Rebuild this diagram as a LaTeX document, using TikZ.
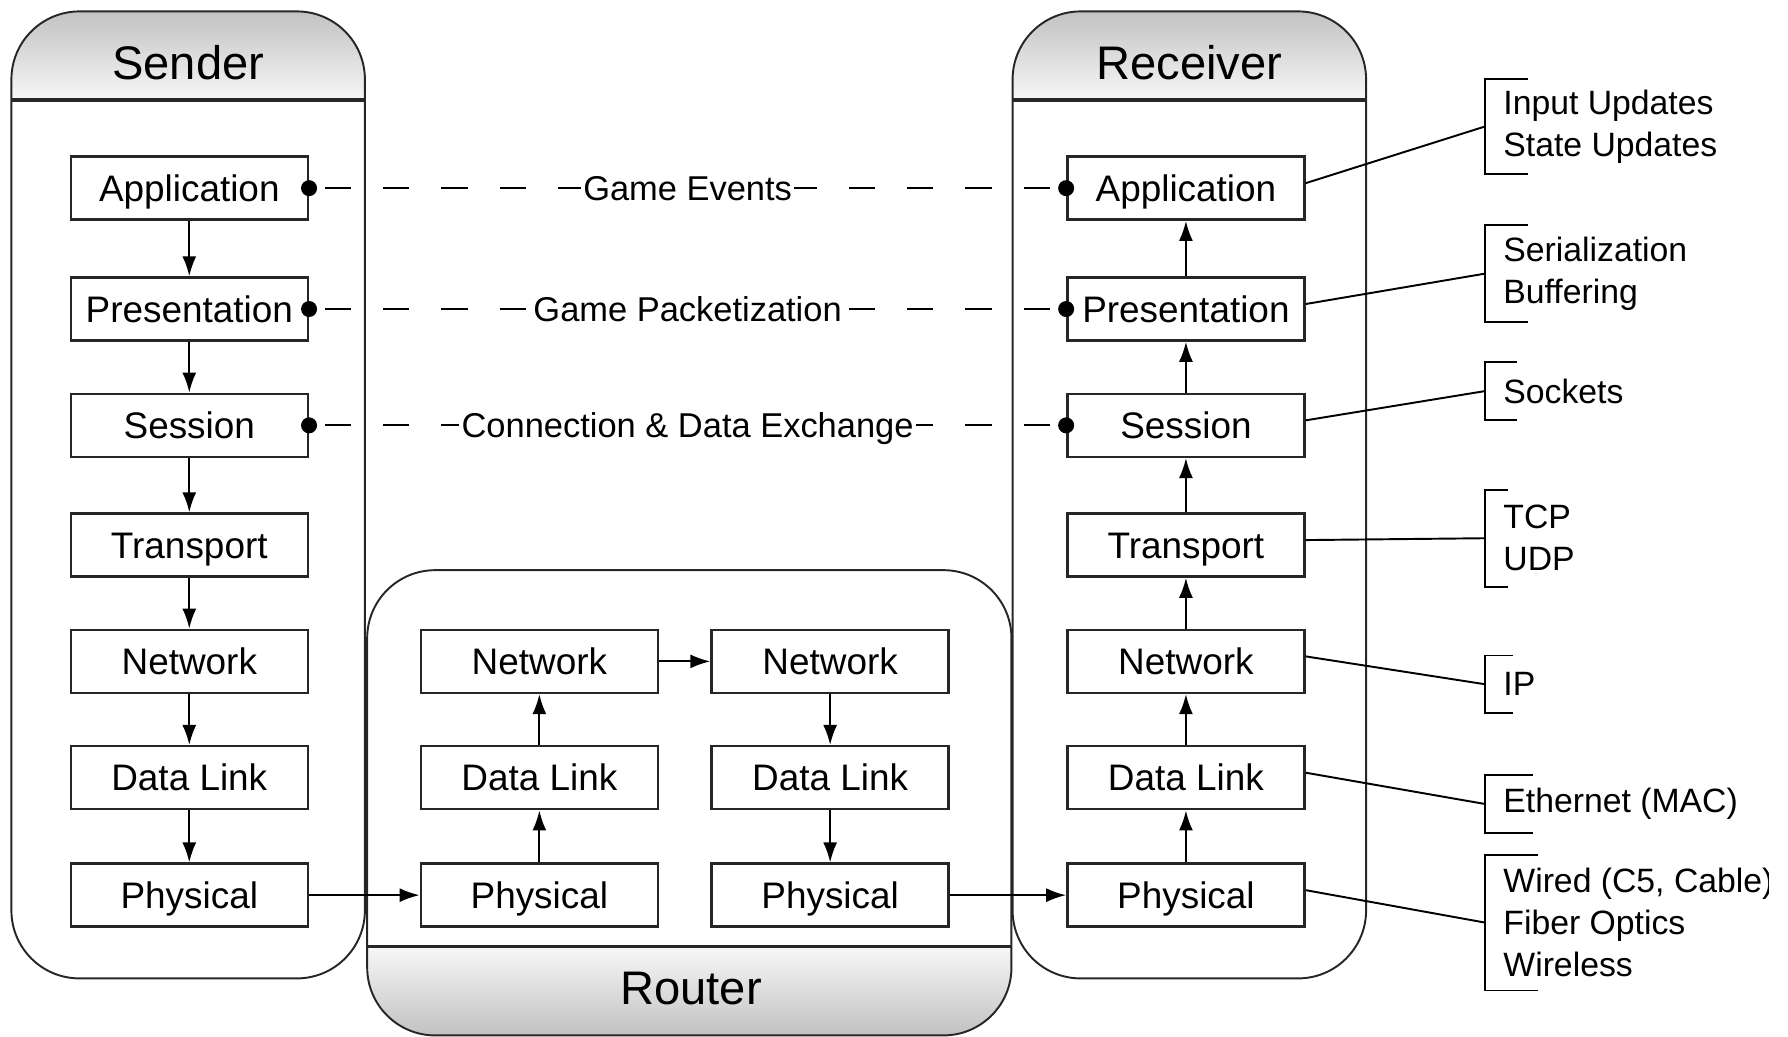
\documentclass[tikz,border=0pt]{standalone}
\usepackage{fontspec}
\setmainfont{Liberation Sans}
\usetikzlibrary{arrows.meta}

% bracket on the left side of a note: node, tick length
\newcommand{\bracketat}[2]{%
    \draw [link] (#1.north west) ++(#2,0) -- (#1.north west) -- (#1.south west) -- ++(#2,0);}

\tikzset{
    frame/.style={draw=black!85, line width=0.55pt, rounded corners=6.8mm},
    sep/.style={draw=black!85, line width=1.1pt},
    layer/.style={draw=black!85, line width=0.7pt, minimum width=23.7mm, minimum height=6.3mm,
        inner sep=0pt, text height=7.5pt, text depth=0pt, font=\fontsize{10.5}{12.6}\selectfont},
    title/.style={font=\fontsize{13.4}{16}\selectfont},
    flow/.style={->, line width=0.6pt},
    peer/.style={line width=0.55pt, dash pattern=on 2.62mm off 3.2mm, dash phase=4.23mm},
    peerlabel/.style={fill=white, inner xsep=0.6pt, inner ysep=1.5pt, text height=7pt, text depth=0pt,
        font=\fontsize{9.8}{12}\selectfont},
    note/.style={anchor=west, align=left, inner xsep=1.8mm, inner ysep=0pt, minimum height=#1,
        font=\fontsize{9.6}{12}\selectfont},
    link/.style={line width=0.55pt},
}

\begin{document}
\begin{tikzpicture}[x=0.114mm, y=-0.114mm, >={Latex[length=2mm, width=1.4mm]}]
    \useasboundingbox (0,0) rectangle (1568,909);

    % sender, receiver and router frames
    \begin{scope}
        \clip [rounded corners=6.8mm] (10,10) rectangle (320,858);
        \shade [top color=black!24, bottom color=black!3] (10,10) rectangle (320,88);
    \end{scope}
    \begin{scope}
        \clip [rounded corners=6.8mm] (888,10) rectangle (1198,858);
        \shade [top color=black!24, bottom color=black!3] (888,10) rectangle (1198,88);
    \end{scope}
    \begin{scope}
        \clip [rounded corners=6.8mm] (322,500) rectangle (887,908);
        \shade [top color=black!3, bottom color=black!24] (322,830) rectangle (887,908);
    \end{scope}
    \draw [frame] (10,10) rectangle (320,858);
    \draw [frame] (888,10) rectangle (1198,858);
    \draw [frame] (322,500) rectangle (887,908);
    \draw [sep] (10,88) -- (320,88);
    \draw [sep] (888,88) -- (1198,88);
    \draw [sep] (322,830) -- (887,830);

    \node (sender) at (165,55) [title] {Sender};
    \node (receiver) at (1043,55) [title] {Receiver};
    \node (router) at (606,867) [title] {Router};

    % sender stack
    \node (sapp) at (166,165) [layer] {Application};
    \node (spre) at (166,271) [layer] {Presentation};
    \node (sses) at (166,373) [layer] {Session};
    \node (stra) at (166,478) [layer] {Transport};
    \node (snet) at (166,580) [layer] {Network};
    \node (sdat) at (166,682) [layer] {Data Link};
    \node (sphy) at (166,785) [layer] {Physical};

    % receiver stack
    \node (rapp) at (1040,165) [layer] {Application};
    \node (rpre) at (1040,271) [layer] {Presentation};
    \node (rses) at (1040,373) [layer] {Session};
    \node (rtra) at (1040,478) [layer] {Transport};
    \node (rnet) at (1040,580) [layer] {Network};
    \node (rdat) at (1040,682) [layer] {Data Link};
    \node (rphy) at (1040,785) [layer] {Physical};

    % router stacks
    \node (anet) at (473,580) [layer] {Network};
    \node (adat) at (473,682) [layer] {Data Link};
    \node (aphy) at (473,785) [layer] {Physical};
    \node (bnet) at (728,580) [layer] {Network};
    \node (bdat) at (728,682) [layer] {Data Link};
    \node (bphy) at (728,785) [layer] {Physical};

    \draw [flow] (sapp) -- (spre);
    \draw [flow] (spre) -- (sses);
    \draw [flow] (sses) -- (stra);
    \draw [flow] (stra) -- (snet);
    \draw [flow] (snet) -- (sdat);
    \draw [flow] (sdat) -- (sphy);
    \draw [flow] (sphy) -- (aphy);
    \draw [flow] (aphy) -- (adat);
    \draw [flow] (adat) -- (anet);
    \draw [flow] (anet) -- (bnet);
    \draw [flow] (bnet) -- (bdat);
    \draw [flow] (bdat) -- (bphy);
    \draw [flow] (bphy) -- (rphy);
    \draw [flow] (rphy) -- (rdat);
    \draw [flow] (rdat) -- (rnet);
    \draw [flow] (rnet) -- (rtra);
    \draw [flow] (rtra) -- (rses);
    \draw [flow] (rses) -- (rpre);
    \draw [flow] (rpre) -- (rapp);

    % peer to peer links
    \draw [peer] (sapp.east) -- node (events) [peerlabel] {Game Events} (rapp.west);
    \draw [peer] (spre.east) -- node (packets) [peerlabel] {Game Packetization} (rpre.west);
    \draw [peer] (sses.east) -- node (exchange) [peerlabel] {Connection \& Data Exchange} (rses.west);
    \fill (sapp.east) circle (0.8mm);
    \fill (spre.east) circle (0.8mm);
    \fill (sses.east) circle (0.8mm);
    \fill (rapp.west) circle (0.8mm);
    \fill (rpre.west) circle (0.8mm);
    \fill (rses.west) circle (0.8mm);

    % notes
    \node (nupd) at (1302,111) [note=9.35mm] {Input Updates\\State Updates};
    \node (nser) at (1302,240) [note=9.58mm] {Serialization\\Buffering};
    \node (nsoc) at (1302,343) [note=5.7mm] {Sockets};
    \node (ntcp) at (1302,472) [note=9.58mm] {TCP\\UDP};
    \node (nip) at (1302,600) [note=5.6mm] {IP};
    \node (nmac) at (1302,705) [note=5.7mm] {Ethernet (MAC)};
    \begin{scope}
        \clip (0,0) rectangle (1551,909);
        \node (nwire) at (1302,809) [note=13.45mm] {Wired (C5, Cable)\\Fiber Optics\\Wireless};
    \end{scope}
    \bracketat{nupd}{38}
    \bracketat{nser}{38}
    \bracketat{nsoc}{28}
    \bracketat{ntcp}{20}
    \bracketat{nip}{25}
    \bracketat{nmac}{42}
    \bracketat{nwire}{47}
    \draw [link] ([yshift=0.5mm]rapp.east) -- (nupd.west);
    \draw [link] ([yshift=0.5mm]rpre.east) -- (nser.west);
    \draw [link] ([yshift=0.5mm]rses.east) -- (nsoc.west);
    \draw [link] ([yshift=0.5mm]rtra.east) -- (ntcp.west);
    \draw [link] ([yshift=0.5mm]rnet.east) -- (nip.west);
    \draw [link] ([yshift=0.5mm]rdat.east) -- (nmac.west);
    \draw [link] ([yshift=0.5mm]rphy.east) -- (nwire.west);
\end{tikzpicture}
\end{document}
